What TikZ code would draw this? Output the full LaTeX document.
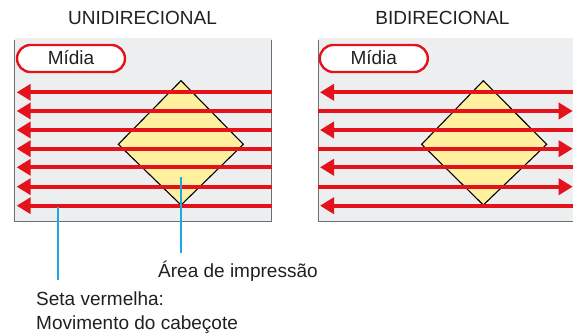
\documentclass[tikz,border=0pt]{standalone}
\usepackage{fontspec}
\setmainfont{Liberation Sans}
\usetikzlibrary{arrows.meta}
\definecolor{txt}{HTML}{231F20}
\definecolor{mred}{HTML}{E3121B}
\definecolor{mgray}{HTML}{EDEEEF}
\definecolor{mborder}{HTML}{6D6E70}
\definecolor{myellow}{HTML}{FFF0A0}
\definecolor{mblue}{HTML}{1BA9E1}
\tikzset{
  lbl/.style={font=\fontsize{19}{22}\selectfont, text=txt, inner sep=0pt},
  panel/.style={fill=mgray},
  panelline/.style={draw=mborder, line width=1.4pt},
  printarea/.style={fill=myellow, draw=black, line width=1.1pt, line join=miter},
  headmove/.style={draw=mred, line width=4pt, -{Triangle[length=14pt,width=16pt]}},
  midia/.style={lbl, draw=mred, fill=white, line width=2.4pt, rounded corners=13.5pt,
    minimum width=108pt, minimum height=27pt},
  leader/.style={draw=mblue, line width=1.8pt}
}
\begin{document}
\begin{tikzpicture}[x=1pt,y=-1pt]
\useasboundingbox (0,0) rectangle (573,336);
% titles
\node[lbl, anchor=base] (t1) at (142.5,25) {UNIDIRECIONAL};
\node[lbl, anchor=base] (t2) at (442.5,25) {BIDIRECIONAL};
% left panel
\fill[panel] (14.7,38) rectangle (271.7,221.7);
\draw[panelline] (14.7,40) -- (14.7,221.7) -- (271.7,221.7) -- (271.7,40);
\draw[printarea] (181,80.7) -- (243.3,144.3) -- (181,205) -- (118.3,144.3) -- cycle;
\foreach \yy in {92.3,111,130,148.7,167.3,186.7,205.7}
  \draw[headmove] (271.7,\yy) -- (16.7,\yy);
\node[midia] (m1) at (71,58.5) {};
\node[lbl, anchor=base] at (71,65) {Mídia};
% right panel
\fill[panel] (318.3,38) rectangle (573,221.7);
\draw[panelline] (318.3,40) -- (318.3,221.7) -- (573,221.7);
\draw[printarea] (483.3,80.7) -- (546.7,144.3) -- (483.3,205) -- (421.7,144.3) -- cycle;
\foreach \yy in {92.3,130,167.3,205.7}
  \draw[headmove] (573,\yy) -- (320,\yy);
\foreach \yy in {111,148.7,186.7}
  \draw[headmove] (318.3,\yy) -- (572.7,\yy);
\node[midia] (m2) at (373.8,58.5) {};
\node[lbl, anchor=base] at (373.8,65) {Mídia};
% labels and leaders
\node[lbl, anchor=base west] (area) at (158,277.3) {Área de impressão};
\node[lbl, anchor=base west] (seta) at (36,306) {Seta vermelha:};
\node[lbl, anchor=base west] (mov) at (36,330) {Movimento do cabeçote};
\coordinate (a1) at (181,176.7);
\coordinate (a2) at (181,253);
\coordinate (s1) at (58.3,207.5);
\coordinate (s2) at (58.3,280);
\draw[leader] (a1) -- (a2);
\draw[leader] (s1) -- (s2);
\end{tikzpicture}
\end{document}
